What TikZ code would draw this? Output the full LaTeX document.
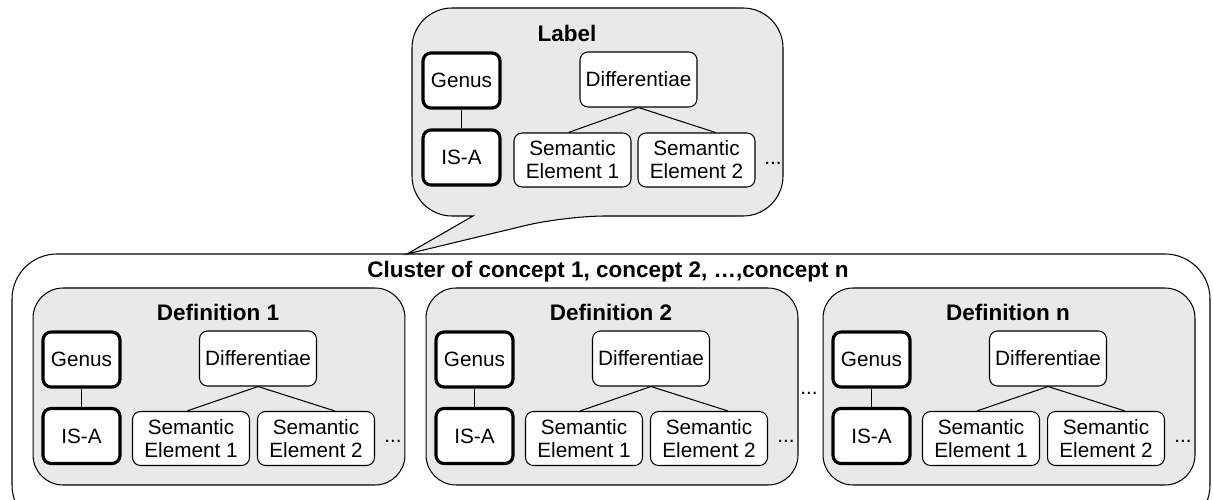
\documentclass[tikz,border=0pt]{standalone}
\usepackage{fontspec}
\setmainfont{Liberation Sans}
\usepackage{tikz}

\definecolor{bubblegray}{RGB}{233,233,233}

\tikzset{
  box/.style={draw, rounded corners=0.16cm, fill=white, align=center, inner sep=0pt, line width=0.6pt, font=\fontsize{11.8}{13}\selectfont},
  thickbox/.style={box, line width=1.8pt, minimum width=1.54cm, minimum height=1.1cm},
  diffbox/.style={box, minimum width=2.34cm, minimum height=1.1cm},
  elembox/.style={box, minimum width=2.34cm, minimum height=1.08cm},
  group/.style={draw, fill=bubblegray, rounded corners=0.6cm, line width=0.6pt, minimum width=7.44cm, minimum height=3.94cm},
  heading/.style={font=\fontsize{12.8}{15}\selectfont\bfseries},
  dots/.style={font=\fontsize{11.8}{13}\selectfont, inner sep=0pt},
}

\begin{document}
\begin{tikzpicture}[x=0.02cm, y=-0.02cm, line width=0.6pt]
\useasboundingbox (0,0) rectangle (1213,500);
\clip (0,0) rectangle (1213,500);

% cluster
\draw[rounded corners=0.9cm] (12,254) rectangle (1210,530);
\node[heading] (cluster) at (608,272) {Cluster of concept 1, concept 2, …,concept n};

% label bubble
\draw[fill=bubblegray] (473,216) [rounded corners=0.8cm] -- (412,216) -- (412,8) -- (783,8) -- (783,216) -- (565,216) [sharp corners] -- (407,254) -- cycle;
\node[heading] (label) at (567,33) {Label};
\node[thickbox] (g0) at (461.5,80.5) {Genus};
\node[thickbox] (i0) at (461.5,157.5) {IS-A};
\node[diffbox] (d0) at (638.5,79.5) {Differentiae};
\node[elembox] (a0) at (572.5,160) {Semantic\\Element 1};
\node[elembox] (b0) at (696.5,160) {Semantic\\Element 2};
\node[dots] (e0) at (773,163) {...};
\draw (g0) -- (i0);
\draw (d0.south) -- ([xshift=-0.08cm]a0.north);
\draw (d0.south) -- ([xshift=0.38cm]b0.north);

% definitions
\foreach \x/\n/\k in {33/1/1, 426/2/2, 823/n/3} {
  \node[group] (def\k) at (\x+186,386.5) {};
  \node[heading] (t\k) at (\x+185,312) {Definition \n};
  \node[thickbox] (g\k) at (\x+48.5,359.5) {Genus};
  \node[thickbox] (i\k) at (\x+48.5,436) {IS-A};
  \node[diffbox] (d\k) at (\x+225,358.5) {Differentiae};
  \node[elembox] (a\k) at (\x+158,438.5) {Semantic\\Element 1};
  \node[elembox] (b\k) at (\x+283,438.5) {Semantic\\Element 2};
  \node[dots] (e\k) at (\x+360,441) {...};
  \draw (g\k) -- (i\k);
  \draw (d\k.south) -- ([xshift=-0.08cm]a\k.north);
  \draw (d\k.south) -- ([xshift=0.38cm]b\k.north);
}
\node[dots] (gap) at (809,393) {...};
\end{tikzpicture}
\end{document}
